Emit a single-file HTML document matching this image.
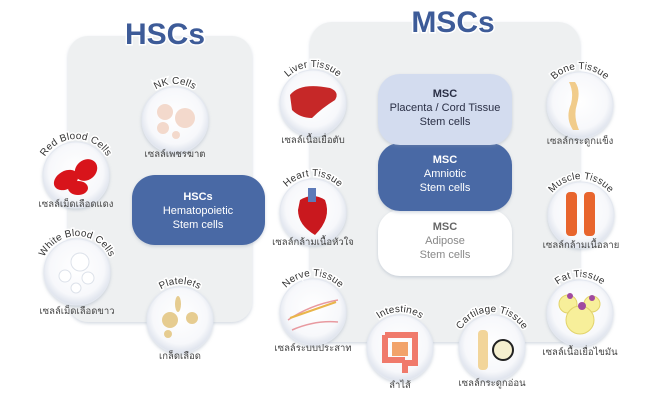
<!DOCTYPE html>
<html><head><meta charset="utf-8"><style>
html,body{margin:0;padding:0;background:#fff;}
svg{display:block;font-family:"Liberation Sans","Noto Sans CJK SC",sans-serif;}
.cl{font-size:10px;fill:#333;stroke:#fff;stroke-width:3px;paint-order:stroke;letter-spacing:0.2px}
.th{font-size:9.5px;fill:#444;text-anchor:middle;font-family:"Liberation Sans","Noto Sans CJK SC",sans-serif;}
.bt{font-size:11px;text-anchor:middle;}
</style></head><body>
<svg width="656" height="400" viewBox="0 0 656 400" xmlns="http://www.w3.org/2000/svg">
<defs>
<radialGradient id="cg" cx="50%" cy="45%" r="55%">
<stop offset="0" stop-color="#ffffff"/><stop offset="0.75" stop-color="#f7f8fb"/><stop offset="1" stop-color="#dde2ec"/>
</radialGradient>
<filter id="sh" x="-20%" y="-20%" width="140%" height="140%"><feDropShadow dx="0" dy="1.5" stdDeviation="1.5" flood-color="#8090a8" flood-opacity="0.35"/></filter>
<path id="p_nk" d="M139,120 A36,36 0 0 1 211,120"/>
<path id="p_rbc" d="M40,175 A36,36 0 0 1 112,175"/>
<path id="p_wbc" d="M41,272 A36,36 0 0 1 113,272"/>
<path id="p_pl" d="M144,320 A36,36 0 0 1 216,320"/>
<path id="p_li" d="M277,103 A36,36 0 0 1 349,103"/>
<path id="p_he" d="M277,212 A36,36 0 0 1 349,212"/>
<path id="p_ne" d="M277,312 A36,36 0 0 1 349,312"/>
<path id="p_in" d="M364,348 A36,36 0 0 1 436,348"/>
<path id="p_ca" d="M456,348 A36,36 0 0 1 528,348"/>
<path id="p_bo" d="M544,105 A36,36 0 0 1 616,105"/>
<path id="p_mu" d="M545,215 A36,36 0 0 1 617,215"/>
<path id="p_fa" d="M544,313 A36,36 0 0 1 616,313"/>
</defs>

<!-- panels -->
<rect x="68" y="36" width="184" height="286" rx="20" fill="#eef0f1" filter="url(#sh)"/>
<rect x="310" y="22" width="270" height="320" rx="22" fill="#eef0f1" filter="url(#sh)"/>

<text x="165" y="44" font-size="30" font-weight="bold" fill="#3d5b98" text-anchor="middle" stroke="#fff" stroke-width="3" paint-order="stroke">HSCs</text>
<text x="453" y="32" font-size="30" font-weight="bold" fill="#3d5b98" text-anchor="middle" stroke="#fff" stroke-width="3" paint-order="stroke">MSCs</text>

<!-- HSC box -->
<rect x="132" y="175" width="133" height="70" rx="23" fill="#4a69a5" filter="url(#sh)"/>
<text x="198" y="200" class="bt" fill="#fff" font-weight="bold">HSCs</text>
<text x="198" y="214" class="bt" fill="#fff">Hematopoietic</text>
<text x="198" y="228" class="bt" fill="#fff">Stem cells</text>

<!-- MSC boxes -->
<rect x="378" y="210" width="134" height="66" rx="22" fill="#fff" filter="url(#sh)"/>
<text x="445" y="230" class="bt" fill="#666" font-weight="bold">MSC</text>
<text x="445" y="244" class="bt" fill="#888">Adipose</text>
<text x="445" y="258" class="bt" fill="#888">Stem cells</text>
<rect x="378" y="143" width="134" height="68" rx="22" fill="#4a69a5" filter="url(#sh)"/>
<text x="445" y="163" class="bt" fill="#fff" font-weight="bold">MSC</text>
<text x="445" y="177" class="bt" fill="#fff">Amniotic</text>
<text x="445" y="191" class="bt" fill="#fff">Stem cells</text>
<rect x="378" y="74" width="134" height="71" rx="22" fill="#d3dcef" filter="url(#sh)"/>
<text x="445" y="97" class="bt" fill="#2a2f45" font-weight="bold">MSC</text>
<text x="445" y="111" class="bt" fill="#2a2f45">Placenta / Cord Tissue</text>
<text x="445" y="125" class="bt" fill="#2a2f45">Stem cells</text>

<!-- circles -->
<g filter="url(#sh)" fill="url(#cg)" stroke="#e4e8f0" stroke-width="1">
<circle cx="175" cy="120" r="33"/>
<circle cx="76" cy="175" r="33"/>
<circle cx="77" cy="272" r="33"/>
<circle cx="180" cy="320" r="33"/>
<circle cx="313" cy="103" r="33"/>
<circle cx="313" cy="212" r="33"/>
<circle cx="313" cy="312" r="33"/>
<circle cx="400" cy="348" r="33"/>
<circle cx="492" cy="348" r="33"/>
<circle cx="580" cy="105" r="33"/>
<circle cx="581" cy="215" r="33"/>
<circle cx="580" cy="313" r="33"/>
</g>

<!-- icons -->
<g fill="#f3d9cc"><circle cx="165" cy="112" r="8"/><circle cx="185" cy="118" r="10"/><circle cx="163" cy="128" r="6"/><circle cx="176" cy="135" r="4"/></g>
<g fill="#d8141b"><ellipse cx="66" cy="180" rx="13" ry="9" transform="rotate(-30 66 180)"/><ellipse cx="86" cy="170" rx="12" ry="10" transform="rotate(-40 86 170)"/><ellipse cx="78" cy="188" rx="10" ry="7"/></g>
<g fill="#fff" stroke="#dde2ea"><circle cx="80" cy="262" r="9"/><circle cx="65" cy="276" r="6"/><circle cx="88" cy="278" r="6"/><circle cx="76" cy="288" r="5"/></g>
<g fill="#e6cc90"><circle cx="170" cy="320" r="8"/><circle cx="192" cy="318" r="6"/><ellipse cx="178" cy="304" rx="3" ry="8"/><circle cx="168" cy="334" r="4"/></g>
<path d="M290,95 Q300,82 330,88 Q340,92 335,100 Q322,108 312,118 Q300,118 292,110 Z" fill="#c62828"/>
<path d="M300,200 Q313,192 325,200 Q332,218 315,235 Q298,225 298,210 Z" fill="#c9181e"/><rect x="308" y="188" width="8" height="14" fill="#5d7ab8"/>
<g stroke="#e89aa0" stroke-width="1.5" fill="none"><path d="M288,320 Q310,305 338,300"/><path d="M292,330 Q315,320 338,322"/></g>
<path d="M290,318 Q313,310 336,302" stroke="#e9b54a" stroke-width="2" fill="none"/>
<path d="M385,335 h30 v28 h-10 v10 M385,335 v25 h20" stroke="#f07a6b" stroke-width="6" fill="none"/><rect x="392" y="342" width="16" height="14" fill="#f2a36a"/>
<rect x="478" y="330" width="10" height="40" rx="4" fill="#f2d59a"/><circle cx="503" cy="350" r="10" fill="#f5efcf" stroke="#222" stroke-width="2"/>
<path d="M575,82 q6,8 2,22 q-4,12 2,26 h-6 q-8,-12 -2,-26 q3,-12 -2,-22 Z" fill="#f1cc8b"/>
<rect x="566" y="192" width="11" height="44" rx="4" fill="#e8652d"/><rect x="584" y="192" width="11" height="44" rx="4" fill="#e8652d"/>
<g fill="#f7ef9a" stroke="#e2d36a"><circle cx="568" cy="304" r="9"/><circle cx="592" cy="304" r="8"/><circle cx="580" cy="320" r="14"/></g>
<g fill="#a04aa0"><circle cx="570" cy="296" r="3"/><circle cx="592" cy="298" r="3"/><circle cx="582" cy="306" r="4"/></g>

<!-- curved labels -->
<g class="cl">
<text class="cl"><textPath href="#p_nk" startOffset="50%" text-anchor="middle">NK Cells</textPath></text>
<text class="cl"><textPath href="#p_rbc" startOffset="50%" text-anchor="middle">Red Blood Cells</textPath></text>
<text class="cl"><textPath href="#p_wbc" startOffset="50%" text-anchor="middle">White Blood Cells</textPath></text>
<text class="cl"><textPath href="#p_pl" startOffset="50%" text-anchor="middle">Platelets</textPath></text>
<text class="cl"><textPath href="#p_li" startOffset="50%" text-anchor="middle">Liver Tissue</textPath></text>
<text class="cl"><textPath href="#p_he" startOffset="50%" text-anchor="middle">Heart Tissue</textPath></text>
<text class="cl"><textPath href="#p_ne" startOffset="50%" text-anchor="middle">Nerve Tissue</textPath></text>
<text class="cl"><textPath href="#p_in" startOffset="50%" text-anchor="middle">Intestines</textPath></text>
<text class="cl"><textPath href="#p_ca" startOffset="50%" text-anchor="middle">Cartilage Tissue</textPath></text>
<text class="cl"><textPath href="#p_bo" startOffset="50%" text-anchor="middle">Bone Tissue</textPath></text>
<text class="cl"><textPath href="#p_mu" startOffset="50%" text-anchor="middle">Muscle Tissue</textPath></text>
<text class="cl"><textPath href="#p_fa" startOffset="50%" text-anchor="middle">Fat Tissue</textPath></text>
</g>

<!-- thai labels -->
<text class="th" x="175" y="157">เซลล์เพชรฆาต</text>
<text class="th" x="76" y="207">เซลล์เม็ดเลือดแดง</text>
<text class="th" x="77" y="314">เซลล์เม็ดเลือดขาว</text>
<text class="th" x="180" y="359">เกล็ดเลือด</text>
<text class="th" x="313" y="143">เซลล์เนื้อเยื่อตับ</text>
<text class="th" x="313" y="245">เซลล์กล้ามเนื้อหัวใจ</text>
<text class="th" x="313" y="351">เซลล์ระบบประสาท</text>
<text class="th" x="400" y="388">ลำไส้</text>
<text class="th" x="492" y="386">เซลล์กระดูกอ่อน</text>
<text class="th" x="580" y="144">เซลล์กระดูกแข็ง</text>
<text class="th" x="581" y="248">เซลล์กล้ามเนื้อลาย</text>
<text class="th" x="580" y="355">เซลล์เนื้อเยื่อไขมัน</text>
</svg>
</body></html>
